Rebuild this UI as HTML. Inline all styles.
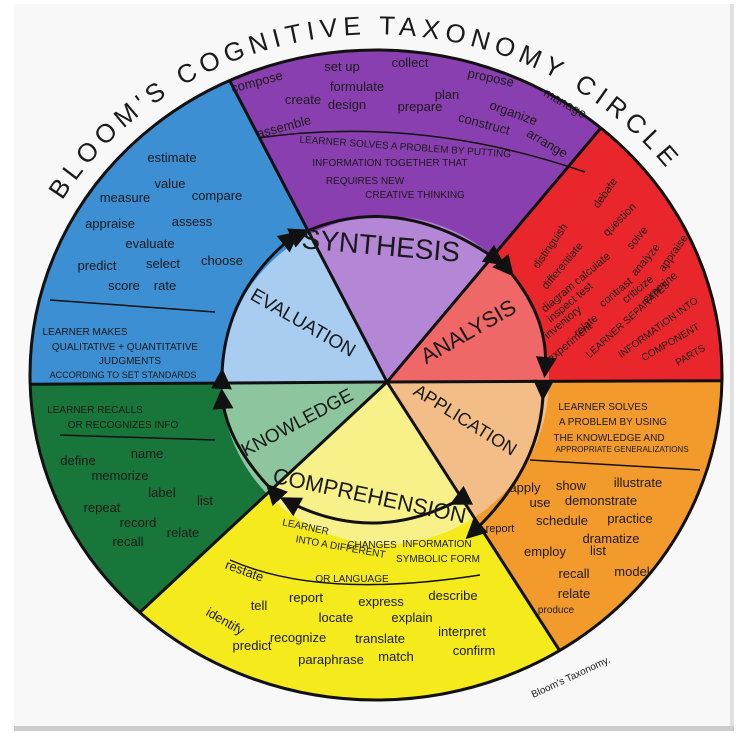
<!DOCTYPE html>
<html><head><meta charset="utf-8"><style>
html,body{margin:0;padding:0;background:#fff;overflow:hidden;width:743px;height:744px}
svg{display:block}
text{font-family:"Liberation Sans",sans-serif;fill:#1a1a1a;text-anchor:middle}
.w{font-size:13px}
.c{font-size:10px}
</style></head><body>
<svg width="743" height="744" viewBox="0 0 743 744" xmlns="http://www.w3.org/2000/svg">
<defs>
<clipPath id="cl"><ellipse cx="376" cy="375" rx="346" ry="325"/></clipPath>
<clipPath id="ci"><circle cx="385" cy="380" r="164"/></clipPath>
<marker id="ah" markerWidth="7" markerHeight="7" refX="5" refY="3.5" orient="auto"><path d="M0,0 L7,3.5 L0,7 Z" fill="#111"/></marker>
</defs>
<rect x="0" y="0" width="743" height="744" fill="#fff"/>
<rect x="14" y="4" width="718" height="722" fill="#f8f8f8"/>
<rect x="14" y="726" width="720" height="5" fill="#9a9a9a" opacity="0.5"/>
<rect x="730" y="4" width="4" height="724" fill="#cfcfcf" opacity="0.6"/>

<g clip-path="url(#cl)">
<polygon points="387,382 -100,385 -100,-100 81,-204" fill="#3d8fd4"/>
<polygon points="387,382 81,-204 813,-124" fill="#8a3fb0"/>
<polygon points="387,382 813,-124 900,-124 900,380" fill="#e9262b"/>
<polygon points="387,382 900,380 900,900 707,880" fill="#f39a2c"/>
<polygon points="387,382 707,880 -83,820" fill="#f4ea1c"/>
<polygon points="387,382 -83,820 -100,900 -100,385" fill="#19763a"/>
<g clip-path="url(#ci)">
<polygon points="387,382 -100,385 -100,-100 81,-204" fill="#a8cdf0"/>
<polygon points="387,382 81,-204 813,-124" fill="#b486d6"/>
<polygon points="387,382 813,-124 900,-124 900,380" fill="#ef6767"/>
<polygon points="387,382 900,380 900,900 707,880" fill="#f2bd86"/>
<polygon points="387,382 707,880 -83,820" fill="#f8f18a"/>
<polygon points="387,382 -83,820 -100,900 -100,385" fill="#8cc59e"/>
</g>
<g stroke="#111" stroke-width="3">
<line x1="387" y1="382" x2="81" y2="-204"/>
<line x1="387" y1="382" x2="813" y2="-124"/>
<line x1="387" y1="382" x2="900" y2="380"/>
<line x1="387" y1="382" x2="707" y2="880"/>
<line x1="387" y1="382" x2="-83" y2="820"/>
<line x1="387" y1="382" x2="-100" y2="385"/>
</g>
</g>
<ellipse cx="376" cy="375" rx="346" ry="325" fill="none" stroke="#111" stroke-width="3"/>

<!-- arrows -->
<g fill="none" stroke="#111" stroke-width="3">
<path d="M305,232 Q400,190 500,262" marker-start="url(#ah)" marker-end="url(#ah)"/>
<path d="M510,272 Q550,320 545,372" marker-start="url(#ah)" marker-end="url(#ah)"/>
<path d="M543,395 Q540,470 470,535" marker-start="url(#ah)" marker-end="url(#ah)"/>
<path d="M455,502 Q370,545 285,500" marker-start="url(#ah)" marker-end="url(#ah)"/>
<path d="M270,488 Q225,440 222,394" marker-start="url(#ah)" marker-end="url(#ah)"/>
<path d="M222,374 Q225,290 295,235" marker-start="url(#ah)" marker-end="url(#ah)"/>
</g>

<!-- title -->
<path id="tp" d="M45,231 A365 340 0 0 1 707,231" fill="none"/>
<text style="font-size:26px;text-anchor:start"><textPath href="#tp" startOffset="35" textLength="700" lengthAdjust="spacing">BLOOM'S COGNITIVE TAXONOMY CIRCLE</textPath></text>

<!-- inner labels -->
<text transform="translate(380,255) rotate(5)" style="font-size:28px">SYNTHESIS</text>
<text transform="translate(300,328) rotate(30)" style="font-size:19px">EVALUATION</text>
<text transform="translate(472,338) rotate(-30)" style="font-size:22px">ANALYSIS</text>
<text transform="translate(462,425) rotate(32)" style="font-size:18px">APPLICATION</text>
<text transform="translate(368,503) rotate(12)" style="font-size:22px">COMPREHENSION</text>
<text transform="translate(300,428) rotate(-28)" style="font-size:19px">KNOWLEDGE</text>

<!-- purple -->
<g class="w">
<text transform="translate(258,86) rotate(-15)">compose</text>
<text x="342" y="71">set up</text><text x="410" y="67">collect</text>
<text transform="translate(490,82) rotate(12)">propose</text>
<text transform="translate(563,107) rotate(30)">manage</text>
<text x="303" y="104">create</text><text x="357" y="91">formulate</text><text x="447" y="99">plan</text>
<text transform="translate(512,117) rotate(20)">organize</text>
<text transform="translate(285,131) rotate(-15)">assemble</text>
<text x="347" y="109">design</text><text x="420" y="111">prepare</text>
<text transform="translate(483,128) rotate(15)">construct</text>
<text transform="translate(545,147) rotate(30)">arrange</text>
</g>
<path d="M258,138 Q420,115 585,172" stroke="#111" stroke-width="1.5" fill="none"/>
<text class="c" transform="translate(405,150) rotate(4)">LEARNER SOLVES A PROBLEM BY PUTTING</text>
<text class="c" x="390" y="166">INFORMATION TOGETHER THAT</text>
<text class="c" x="365" y="184">REQUIRES NEW</text>
<text class="c" x="415" y="198">CREATIVE  THINKING</text>

<!-- blue -->
<g class="w">
<text x="172" y="162">estimate</text><text x="170" y="188">value</text>
<text x="125" y="202">measure</text><text x="217" y="200">compare</text>
<text x="110" y="228">appraise</text><text x="192" y="226">assess</text>
<text x="150" y="248">evaluate</text>
<text x="97" y="270">predict</text><text x="163" y="268">select</text><text x="222" y="265">choose</text>
<text x="124" y="290">score</text><text x="165" y="290">rate</text>
</g>
<line x1="50" y1="300" x2="215" y2="312" stroke="#111" stroke-width="1.5"/>
<text class="c" x="85" y="335">LEARNER MAKES</text>
<text class="c" x="125" y="350">QUALITATIVE + QUANTITATIVE</text>
<text class="c" x="130" y="364">JUDGMENTS</text>
<text class="c" x="123" y="378" style="font-size:9px">ACCORDING TO SET STANDARDS</text>

<!-- green -->
<text class="c" x="95" y="413">LEARNER RECALLS</text>
<text class="c" x="123" y="428">OR RECOGNIZES INFO</text>
<line x1="60" y1="435" x2="215" y2="440" stroke="#111" stroke-width="1.5"/>
<g class="w">
<text x="78" y="465">define</text><text x="147" y="458">name</text>
<text x="120" y="480">memorize</text><text x="162" y="497">label</text>
<text x="102" y="512">repeat</text><text x="205" y="505">list</text>
<text x="138" y="527">record</text>
<text x="128" y="546">recall</text><text x="183" y="537">relate</text>
</g>

<!-- red -->
<g style="font-size:11px">
<text transform="translate(553,248) rotate(-55)">distinguish</text>
<text transform="translate(565,268) rotate(-50)">differentiate</text>
<text transform="translate(578,285) rotate(-40)">diagram calculate</text>
<text transform="translate(572,305) rotate(-40)">inspect test</text>
<text transform="translate(565,325) rotate(-40)">inventory</text>
<text transform="translate(588,328) rotate(-40)">relate</text>
<text transform="translate(572,345) rotate(-40)">experiment</text>
<text transform="translate(608,195) rotate(-55)">debate</text>
<text transform="translate(622,222) rotate(-45)">question</text>
<text transform="translate(640,240) rotate(-50)">solve</text>
<text transform="translate(648,262) rotate(-50)">analyze</text>
<text transform="translate(676,255) rotate(-55)">appraise</text>
<text transform="translate(618,295) rotate(-40)">contrast</text>
<text transform="translate(640,292) rotate(-40)">criticize</text>
<text transform="translate(662,290) rotate(-40)">examine</text>
</g>
<text class="c" transform="translate(630,322) rotate(-42)">LEARNER SEPARATES</text>
<text class="c" transform="translate(660,330) rotate(-36)">INFORMATION INTO</text>
<text class="c" transform="translate(672,345) rotate(-30)">COMPONENT</text>
<text class="c" transform="translate(692,358) rotate(-30)">PARTS</text>

<!-- orange -->
<text class="c" x="603" y="410">LEARNER SOLVES</text>
<text class="c" x="613" y="425">A PROBLEM BY USING</text>
<text class="c" x="609" y="441">THE KNOWLEDGE AND</text>
<text x="622" y="452" style="font-size:8px">APPROPRIATE GENERALIZATIONS</text>
<line x1="530" y1="460" x2="700" y2="470" stroke="#111" stroke-width="1.5"/>
<g class="w">
<text x="525" y="492">apply</text><text x="571" y="490">show</text><text x="638" y="487">illustrate</text>
<text x="540" y="507">use</text><text x="601" y="505">demonstrate</text>
<text x="562" y="525">schedule</text><text x="630" y="523">practice</text>
<text x="500" y="532" style="font-size:11px">report</text>
<text x="611" y="543">dramatize</text>
<text x="545" y="556">employ</text><text x="598" y="555">list</text>
<text x="574" y="578">recall</text><text x="632" y="576">model</text>
<text x="574" y="598">relate</text>
<text x="556" y="613" style="font-size:10px">produce</text>
</g>

<!-- yellow -->
<text class="c" transform="translate(305,530) rotate(12)">LEARNER</text>
<text class="c" x="372" y="548">CHANGES</text><text class="c" x="437" y="547">INFORMATION</text>
<text class="c" transform="translate(340,550) rotate(10)">INTO A DIFFERENT</text>
<text class="c" x="438" y="562">SYMBOLIC FORM</text>
<text class="c" x="352" y="582">OR LANGUAGE</text>
<path d="M230,560 Q320,600 480,575" stroke="#111" stroke-width="1.5" fill="none"/>
<g class="w">
<text transform="translate(243,575) rotate(20)">restate</text>
<text x="259" y="610">tell</text><text x="306" y="602">report</text>
<text x="381" y="606">express</text><text x="453" y="600">describe</text>
<text transform="translate(223,625) rotate(30)">identify</text>
<text x="336" y="622">locate</text><text x="412" y="622">explain</text>
<text x="298" y="642">recognize</text><text x="380" y="643">translate</text>
<text x="462" y="636">interpret</text>
<text x="252" y="650">predict</text><text x="331" y="664">paraphrase</text>
<text x="396" y="661">match</text><text x="474" y="655">confirm</text>
</g>
<text transform="translate(572,680) rotate(-25)" style="font-size:10px">Bloom's Taxonomy.</text>
</svg>
</body></html>
